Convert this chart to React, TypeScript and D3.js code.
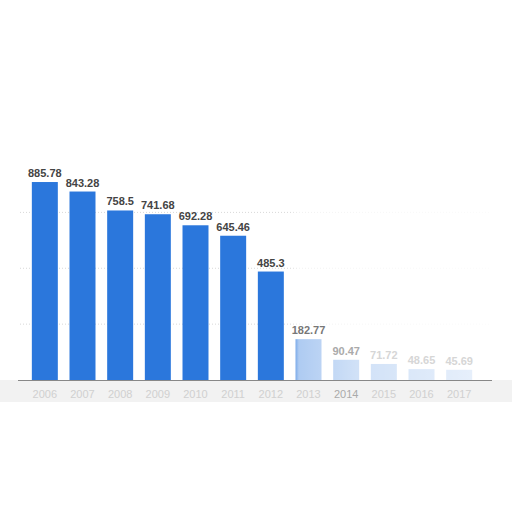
import React, { useEffect, useRef } from 'react';
import * as d3 from 'd3';

const years = ['2006', '2007', '2008', '2009', '2010', '2011', '2012', '2013', '2014', '2015', '2016', '2017'];
const values = [885.78, 843.28, 758.5, 741.68, 692.28, 645.46, 485.3, 182.77, 90.47, 71.72, 48.65, 45.69];
const gridTicks = [250, 500, 750];

const App: React.FC = () => {
  const svgRef = useRef<SVGSVGElement>(null);

  useEffect(() => {
    if (!svgRef.current) return;
    const svg = d3.select(svgRef.current);
    svg.selectAll('*').remove();

    const width = 512;
    const baseY = 380;

    const x = d3.scaleBand()
      .domain(years)
      .range([26, 478])
      .paddingInner(0.31)
      .paddingOuter(0.155);

    const y = d3.scaleLinear().domain([0, 1000]).range([baseY, 156.5]);

    svg.append('rect').attr('width', width).attr('height', 512).attr('fill', '#fff');

    // faint grey panel under the axis
    svg.append('rect')
      .attr('x', 0).attr('y', baseY)
      .attr('width', width).attr('height', 22)
      .attr('fill', '#f2f2f2');

    // dotted grid
    svg.selectAll('.grid')
      .data(gridTicks)
      .enter()
      .append('line')
      .attr('x1', 20).attr('x2', 490)
      .attr('y1', d => y(d)).attr('y2', d => y(d))
      .attr('stroke', '#d8d8d8')
      .attr('stroke-dasharray', '1,2');

    // bars
    svg.selectAll('.bar')
      .data(values)
      .enter()
      .append('rect')
      .attr('x', (d, i) => x(years[i]) || 0)
      .attr('y', d => y(d))
      .attr('width', x.bandwidth())
      .attr('height', d => baseY - y(d))
      .attr('fill', '#2b77dc');

    // washed-out right side
    const defs = svg.append('defs');
    const fade = defs.append('linearGradient').attr('id', 'fade')
      .attr('gradientUnits', 'userSpaceOnUse')
      .attr('x1', 290).attr('x2', 512).attr('y1', 0).attr('y2', 0);
    fade.append('stop').attr('offset', '0%').attr('stop-color', '#fff').attr('stop-opacity', 0);
    fade.append('stop').attr('offset', '4%').attr('stop-color', '#fff').attr('stop-opacity', 0.62);
    fade.append('stop').attr('offset', '30%').attr('stop-color', '#fff').attr('stop-opacity', 0.78);
    fade.append('stop').attr('offset', '100%').attr('stop-color', '#fff').attr('stop-opacity', 0.92);

    svg.append('rect')
      .attr('x', 290).attr('y', 150)
      .attr('width', width - 290).attr('height', 230)
      .attr('fill', 'url(#fade)');

    // value labels
    svg.selectAll('.val')
      .data(values)
      .enter()
      .append('text')
      .attr('x', (d, i) => (x(years[i]) || 0) + x.bandwidth() / 2)
      .attr('y', d => y(d) - 5)
      .attr('text-anchor', 'middle')
      .attr('font-family', 'Liberation Sans, Arial, sans-serif')
      .attr('font-size', '11px')
      .attr('font-weight', 'bold')
      .attr('fill', (d, i) => (i < 7 ? '#444' : i === 7 ? '#777' : i === 8 ? '#aaa' : '#d6d6d6'))
      .text(d => d.toString());

    // axis line
    svg.append('line')
      .attr('x1', 18).attr('x2', 492)
      .attr('y1', baseY + 0.5).attr('y2', baseY + 0.5)
      .attr('stroke', '#888').attr('stroke-width', 1);

    // year labels
    svg.selectAll('.yr')
      .data(years)
      .enter()
      .append('text')
      .attr('x', d => (x(d) || 0) + x.bandwidth() / 2)
      .attr('y', baseY + 18)
      .attr('text-anchor', 'middle')
      .attr('font-family', 'Liberation Sans, Arial, sans-serif')
      .attr('font-size', '11px')
      .attr('fill', (d, i) => (i === 8 ? '#aaa' : '#d0d0d0'))
      .text(d => d);
  }, []);

  return (
    <div style={{ position: 'fixed', left: 0, top: 0 }}>
      <svg ref={svgRef} width={512} height={512} style={{ display: 'block' }} />
    </div>
  );
};

export default App;
